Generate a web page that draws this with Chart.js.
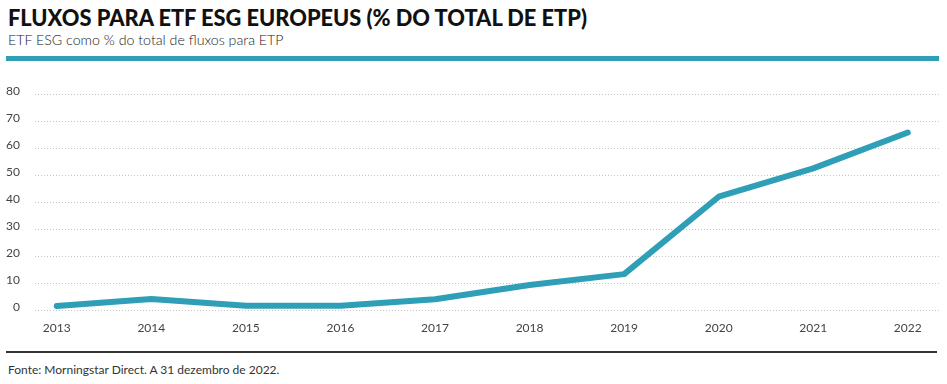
<!DOCTYPE html>
<html>
<head>
<meta charset="utf-8">
<script src="https://cdn.jsdelivr.net/npm/chart.js@4"></script>
<style>
  html, body { margin: 0; padding: 0; background: #fff; }
  body { width: 947px; height: 384px; position: relative; overflow: hidden; font-family: Lato, sans-serif; }
  .title { position: absolute; left: 8px; top: 4px; font-size: 21.8px; font-weight: 900; color: #111; white-space: nowrap; }
  .subtitle { position: absolute; left: 8px; top: 31px; font-size: 14.2px; font-weight: 300; color: #222; white-space: nowrap; }
  .topRule { position: absolute; left: 6px; width: 933px; top: 56px; height: 5px; background: #2e9fb7; }
  .bottomRule { position: absolute; left: 6px; width: 931px; top: 351px; height: 2px; background: #333; }
  .source { position: absolute; left: 8px; top: 362px; font-size: 12px; color: #333; white-space: nowrap; }
  .chartBox { position: absolute; left: 0; top: 72px; width: 947px; height: 268px; }
</style>
</head>
<body>
<div class="title">FLUXOS PARA ETF ESG EUROPEUS (% DO TOTAL DE ETP)</div>
<div class="subtitle">ETF ESG como % do total de fluxos para ETP</div>
<div class="topRule"></div>
<div class="chartBox"><canvas id="chart"></canvas></div>
<div class="bottomRule"></div>
<div class="source">Fonte: Morningstar Direct. A 31 dezembro de 2022.</div>
<script>
  // data
  const years = [2013, 2014, 2015, 2016, 2017, 2018, 2019, 2020, 2021, 2022];
  const esgShare = [1.5, 4.1, 1.6, 1.6, 4.0, 9.3, 13.3, 42.0, 52.5, 65.8];
  const yTicks = [0, 10, 20, 30, 40, 50, 60, 70, 80];

  const points = years.map((y, i) => ({ x: y, y: esgShare[i] }));

  new Chart(document.getElementById("chart"), {
    type: "line",
    data: {
      datasets: [{
        data: points,
        borderColor: "#2e9fb7",
        borderWidth: 6,
        borderCapStyle: "round",
        borderJoinStyle: "round",
        pointRadius: 0,
        tension: 0,
      }],
    },
    options: {
      responsive: true,
      maintainAspectRatio: false,
      animation: false,
      layout: { padding: { top: 10, right: 8, bottom: 0, left: 0 } },
      plugins: { legend: { display: false }, tooltip: { enabled: false } },
      scales: {
        x: {
          type: "linear",
          min: 2012.77,
          max: 2022.33,
          grid: { display: false, drawTicks: false },
          border: { display: false },
          afterBuildTicks: (axis) => { axis.ticks = years.map((v) => ({ value: v })); },
          afterFit: (axis) => { axis.height = 30; },
          ticks: {
            padding: 11,
            maxRotation: 0,
            autoSkip: false,
            color: "#444",
            font: { family: "Lato", size: 12 },
            callback: (v) => String(v),
          },
        },
        y: {
          min: 0,
          max: 80,
          afterBuildTicks: (axis) => { axis.ticks = yTicks.map((v) => ({ value: v })); },
          afterFit: (axis) => { axis.width = 35; },
          grid: { color: "#c4c4c4", lineWidth: 1, drawTicks: false },
          border: { display: false, dash: [1, 2] },
          ticks: {
            padding: 15,
            labelOffset: -3,
            color: "#444",
            font: { family: "Lato", size: 12 },
          },
        },
      },
    },
  });
</script>
</body>
</html>
